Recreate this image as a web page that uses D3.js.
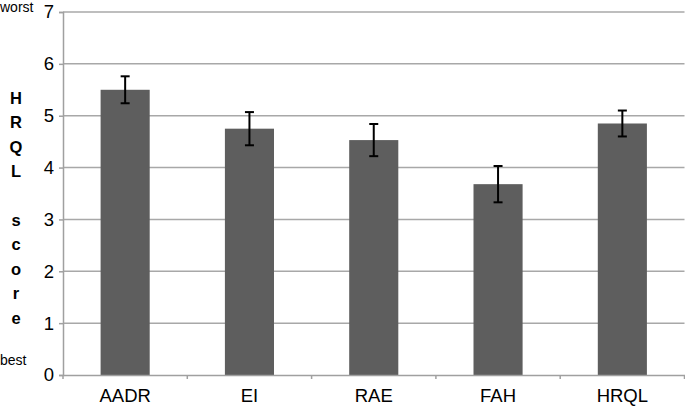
<!DOCTYPE html>
<html>
<head>
<meta charset="utf-8">
<script src="https://cdn.jsdelivr.net/npm/d3@7"></script>
<style>
  html, body { margin: 0; padding: 0; background: #fff; }
  svg { display: block; font-family: "Liberation Sans", Arial, Helvetica, sans-serif; }
</style>
</head>
<body>
<svg id="chart" width="685" height="407"></svg>
<script>
const categories = ["AADR", "EI", "RAE", "FAH", "HRQL"];
const means = [5.50, 4.75, 4.53, 3.68, 4.85];
const errors = [0.26, 0.32, 0.31, 0.35, 0.25];
const yTicks = [0, 1, 2, 3, 4, 5, 6, 7];
const yTitleLetters = ["H", "R", "Q", "L", "", "s", "c", "o", "r", "e"];
const topLabel = "worst";
const bottomLabel = "best";

const svg = d3.select("#chart");
const pLeft = 63, pRight = 684.5, pTop = 12, pBottom = 375;

const x = d3.scaleBand().domain(categories).range([pLeft, pRight]).paddingInner(0.605).paddingOuter(0.3025);
const xCat = d3.scaleBand().domain(categories).range([pLeft, pRight]).padding(0);
const y = d3.scaleLinear().domain([0, 7]).range([pBottom, pTop]);

// gridlines
svg.append("g").selectAll("line").data(yTicks.filter(d => d > 0)).join("line")
  .attr("x1", pLeft).attr("x2", pRight)
  .attr("y1", d => y(d)).attr("y2", d => y(d))
  .attr("stroke", "#a8a8a8").attr("stroke-width", 1.5);

// y axis
const yAxis = d3.axisLeft(y).tickValues(yTicks).tickSize(4).tickPadding(5).tickFormat(d3.format("d"));
const gy = svg.append("g").attr("transform", `translate(${pLeft},0)`).call(yAxis);
gy.select(".domain").attr("stroke", "#a0a0a0").attr("stroke-width", 1.5);
gy.selectAll(".tick line").attr("stroke", "#a0a0a0").attr("stroke-width", 1.5);
gy.selectAll(".tick text").attr("font-size", 18.5).attr("fill", "#000")
  .attr("font-family", "Liberation Sans, Arial, sans-serif");

// bars
svg.append("g").selectAll("rect").data(categories).join("rect")
  .attr("x", d => x(d)).attr("width", x.bandwidth())
  .attr("y", (d, i) => y(means[i])).attr("height", (d, i) => y(0) - y(means[i]))
  .attr("fill", "#5e5e5e");

// x axis
const xAxis = d3.axisBottom(xCat).tickSize(0).tickPadding(14);
const gx = svg.append("g").attr("transform", `translate(0,${pBottom})`).call(xAxis);
gx.select(".domain").attr("stroke", "#a0a0a0").attr("stroke-width", 1.5);
gx.selectAll(".tick text").attr("font-size", 18.5).attr("fill", "#000")
  .attr("font-family", "Liberation Sans, Arial, sans-serif");
// category boundary ticks
svg.append("g").selectAll("line").data(categories.concat(["__end"])).join("line")
  .attr("x1", (d, i) => i < categories.length ? xCat(d) : pRight)
  .attr("x2", (d, i) => i < categories.length ? xCat(d) : pRight)
  .attr("y1", pBottom).attr("y2", pBottom + 4)
  .attr("stroke", "#a0a0a0").attr("stroke-width", 1.5);

// error bars
const eb = svg.append("g").attr("stroke", "#000").attr("stroke-width", 2);
categories.forEach((c, i) => {
  const cx = x(c) + x.bandwidth() / 2;
  const hi = y(means[i] + errors[i]), lo = y(means[i] - errors[i]);
  eb.append("line").attr("x1", cx).attr("x2", cx).attr("y1", hi).attr("y2", lo);
  eb.append("line").attr("x1", cx - 4.5).attr("x2", cx + 4.5).attr("y1", hi).attr("y2", hi);
  eb.append("line").attr("x1", cx - 4.5).attr("x2", cx + 4.5).attr("y1", lo).attr("y2", lo);
});

// axis title, vertical letters
svg.append("g").selectAll("text").data(yTitleLetters).join("text")
  .attr("x", 16).attr("y", (d, i) => 104 + i * 24.4)
  .attr("text-anchor", "middle").attr("font-size", 16.5).attr("font-weight", "bold")
  .attr("fill", "#000").text(d => d);

svg.append("text").attr("x", 0).attr("y", 12).attr("font-size", 14).attr("fill", "#000").text(topLabel);
svg.append("text").attr("x", 0).attr("y", 365).attr("font-size", 14).attr("fill", "#000").text(bottomLabel);
</script>
</body>
</html>
